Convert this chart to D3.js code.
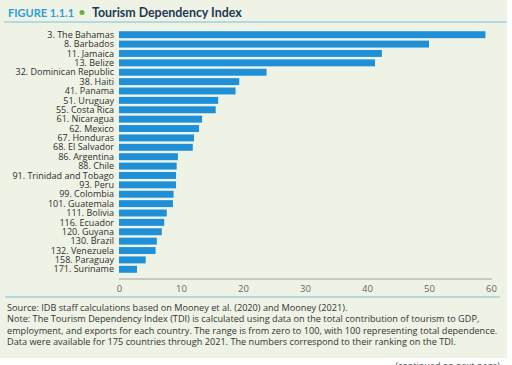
<!DOCTYPE html>
<html>
<head>
<meta charset="utf-8">
<script src="https://cdn.jsdelivr.net/npm/d3@7"></script>
<style>
  body { margin: 0; background: #fff; }
  svg { display: block; font-family: "Open Sans", sans-serif; }
</style>
</head>
<body>
<div id="chart"></div>
<script>
// data
const countries = [
  '3. The Bahamas', '8. Barbados', '11. Jamaica', '13. Belize', '32. Dominican Republic',
  '38. Haiti', '41. Panama', '51. Uruguay', '55. Costa Rica', '61. Nicaragua',
  '62. Mexico', '67. Honduras', '68. El Salvador', '86. Argentina', '88. Chile',
  '91. Trinidad and Tobago', '93. Peru', '99. Colombia', '101. Guatemala', '111. Bolivia',
  '116. Ecuador', '120. Guyana', '130. Brazil', '132. Venezuela', '158. Paraguay', '171. Suriname'
];
const tdi = [
  59.1, 50.0, 42.4, 41.3, 23.8,
  19.4, 18.8, 16.0, 15.6, 13.4,
  12.9, 12.1, 11.9, 9.5, 9.3,
  9.2, 9.2, 8.8, 8.7, 7.7,
  7.3, 6.9, 6.1, 5.9, 4.3, 2.9
];
const xTicks = [0, 10, 20, 30, 40, 50, 60];
const notes = [
  'Source: IDB staff calculations based on Mooney et al. (2020) and Mooney (2021).',
  'Note: The Tourism Dependency Index (TDI) is calculated using data on the total contribution of tourism to GDP,',
  'employment, and exports for each country. The range is from zero to 100, with 100 representing total dependence.',
  'Data were available for 175 countries through 2021. The numbers correspond to their ranking on the TDI.'
];

const W = 512, H = 365;
const svg = d3.select('#chart').append('svg').attr('width', W).attr('height', H);

// panel background
svg.append('rect').attr('x', 0).attr('y', 0).attr('width', 507).attr('height', 358).attr('fill', '#eef3e5');

// title
svg.append('text').attr('x', 8).attr('y', 16.5)
  .attr('font-family', 'Lato, sans-serif').attr('font-weight', 'bold')
  .attr('fill', '#2aa0d8').attr('font-size', 11).text('FIGURE 1.1.1');
svg.append('circle').attr('cx', 82).attr('cy', 12.5).attr('r', 2.5).attr('fill', '#6aaf3d');
svg.append('text').attr('x', 92).attr('y', 16.5)
  .attr('font-family', 'Lato, sans-serif').attr('font-weight', 'bold')
  .attr('font-size', 12.4).attr('fill', '#1d3a55').text('Tourism Dependency Index');
svg.append('line').attr('x1', 4).attr('x2', 507).attr('y1', 22).attr('y2', 22)
  .attr('stroke', '#7cbfe0').attr('stroke-width', 1);

// scales
const x = d3.scaleLinear().domain([0, 60]).range([119, 491]);
const y = d3.scaleBand().domain(countries).range([30, 274]).paddingInner(0.26).paddingOuter(0.13);

// bars
svg.selectAll('.bar')
  .data(countries)
  .enter().append('rect')
    .attr('class', 'bar')
    .attr('x', x(0))
    .attr('y', d => y(d))
    .attr('width', (d, i) => x(tdi[i]) - x(0))
    .attr('height', y.bandwidth())
    .attr('fill', '#1f90d8');

// category labels
svg.selectAll('.cat')
  .data(countries)
  .enter().append('text')
    .attr('class', 'cat')
    .attr('x', 114)
    .attr('y', d => y(d) + y.bandwidth() / 2)
    .attr('dy', '0.35em')
    .attr('text-anchor', 'end')
    .attr('font-size', 9)
    .attr('fill', '#2e2e2e')
    .text(d => d);

// x axis
const xAxis = svg.append('g').attr('transform', 'translate(0,279)')
  .call(d3.axisBottom(x).tickValues(xTicks).tickSize(0).tickPadding(6));
xAxis.select('.domain').attr('stroke', '#a0a39a').attr('d', `M${x(0)},0H${x(60) + 1}`);
xAxis.selectAll('text').attr('font-size', 9.5).attr('fill', '#666').attr('font-family', '"Open Sans", sans-serif');

// footer
svg.append('line').attr('x1', 5).attr('x2', 500).attr('y1', 297).attr('y2', 297)
  .attr('stroke', '#7cbfe0').attr('stroke-width', 1);
const noteText = svg.selectAll('.note')
  .data(notes)
  .enter().append('text')
    .attr('class', 'note')
    .attr('x', 7)
    .attr('y', (d, i) => 311 + i * 11.3)
    .attr('font-size', 9)
    .attr('fill', '#333')
    .text(d => d);
// fit the longest note line to the panel width
const widest = d3.max(noteText.nodes(), n => n.getComputedTextLength());
noteText.attr('font-size', 9 * 491 / widest);

svg.append('text').attr('x', 500).attr('y', 369).attr('text-anchor', 'end')
  .attr('font-size', 9).attr('fill', '#555')
  .text('(continued on next page)');
</script>
</body>
</html>
